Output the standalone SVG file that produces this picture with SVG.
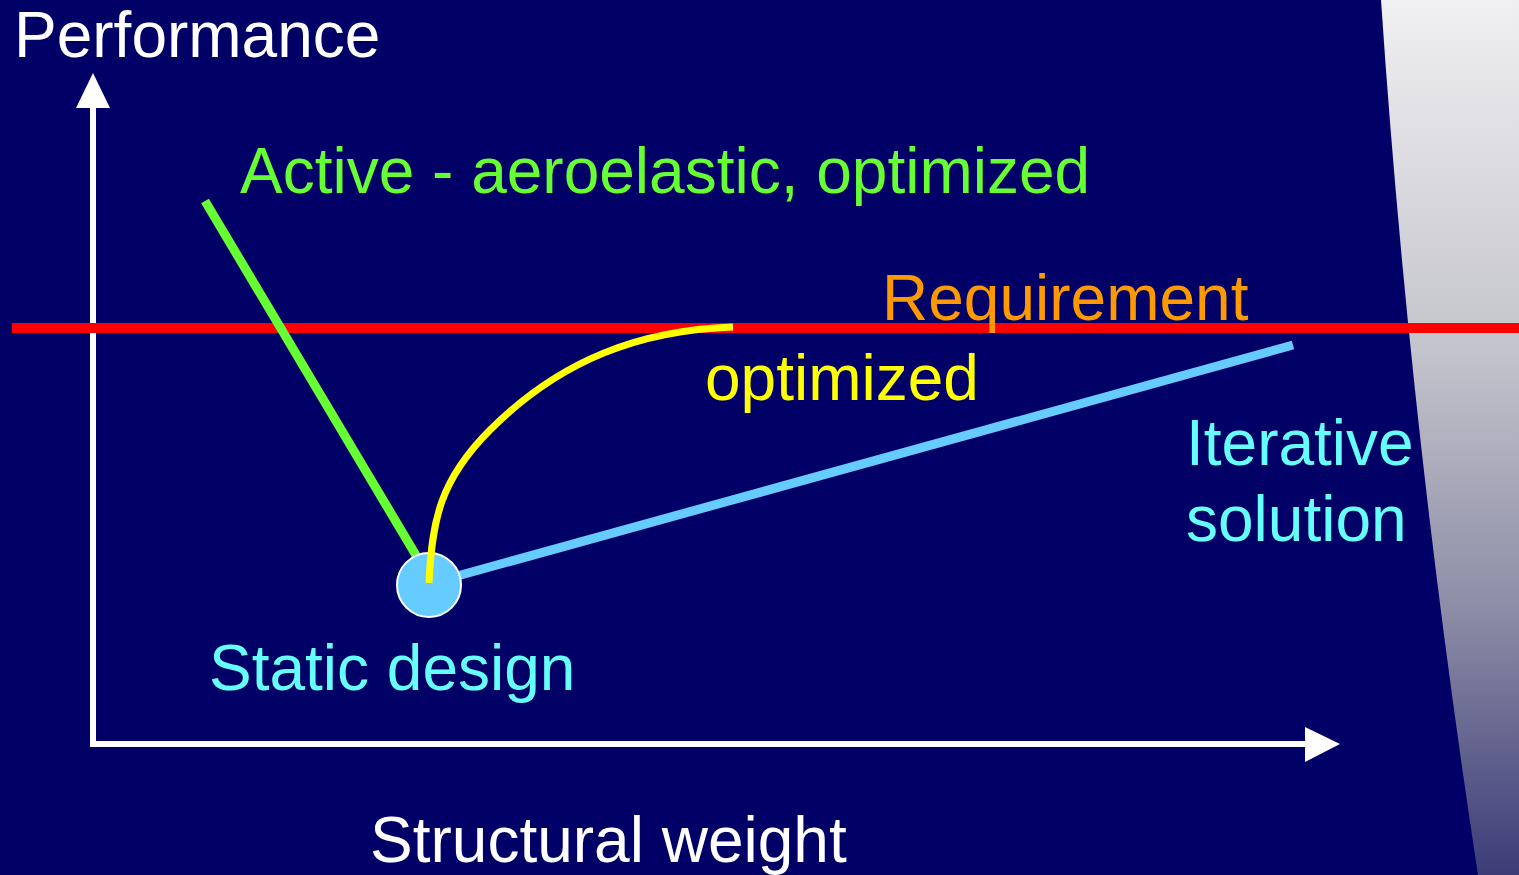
<svg xmlns="http://www.w3.org/2000/svg" width="1519" height="875" viewBox="0 0 1519 875">
<defs>
<linearGradient id="side" x1="0" y1="0" x2="0" y2="1">
<stop offset="0" stop-color="#f0f0f2"/>
<stop offset="0.4" stop-color="#c4c4cc"/>
<stop offset="0.7" stop-color="#8c8ca6"/>
<stop offset="1" stop-color="#3c3c78"/>
</linearGradient>
</defs>
<style>
text{font-family:"Liberation Sans",Arial,sans-serif;font-size:64px}
.ax{stroke:#ffffff;stroke-width:6;fill:none}
</style>
<rect width="1519" height="875" fill="#000066"/>
<path d="M1381,0 L1519,0 L1519,875 L1478,875 Q1410,430 1381,0 Z" fill="url(#side)"/>
<g id="axes">
<line class="ax" x1="93" y1="105" x2="93" y2="747"/>
<polygon points="93,73 110,108 76,108" fill="#ffffff"/>
<line class="ax" x1="90" y1="744" x2="1310" y2="744"/>
<polygon points="1340,744 1305,727 1305,762" fill="#ffffff"/>
</g>
<g id="connectors">
<line x1="12" y1="328" x2="1519" y2="328" stroke="#ff0000" stroke-width="10"/>
<line x1="205" y1="201" x2="420" y2="562" stroke="#66ff33" stroke-width="9"/>
<line x1="450" y1="578" x2="1293" y2="345" stroke="#66ccff" stroke-width="9"/>
</g>
<g id="static-node">
<circle cx="429" cy="585" r="32" fill="#66ccff" stroke="#ffffff" stroke-width="2"/>
</g>
<g id="optimized-curve">
<path d="M429,583 C432,520 440,480 490,430 C560,360 640,330 733,327" fill="none" stroke="#ffff00" stroke-width="7"/>
</g>
<g id="labels">
<text x="14" y="57" fill="#ffffff">Performance</text>
<text x="240" y="193" fill="#66ff33">Active - aeroelastic, optimized</text>
<text x="882" y="320" fill="#ff9900">Requirement</text>
<text x="705" y="400" fill="#ffff00">optimized</text>
<text x="1186" y="465" fill="#66ffff">Iterative</text>
<text x="1186" y="541" fill="#66ffff">solution</text>
<text x="209" y="690" fill="#66ffff">Static design</text>
<text x="370" y="862" fill="#ffffff">Structural weight</text>
</g>
</svg>
